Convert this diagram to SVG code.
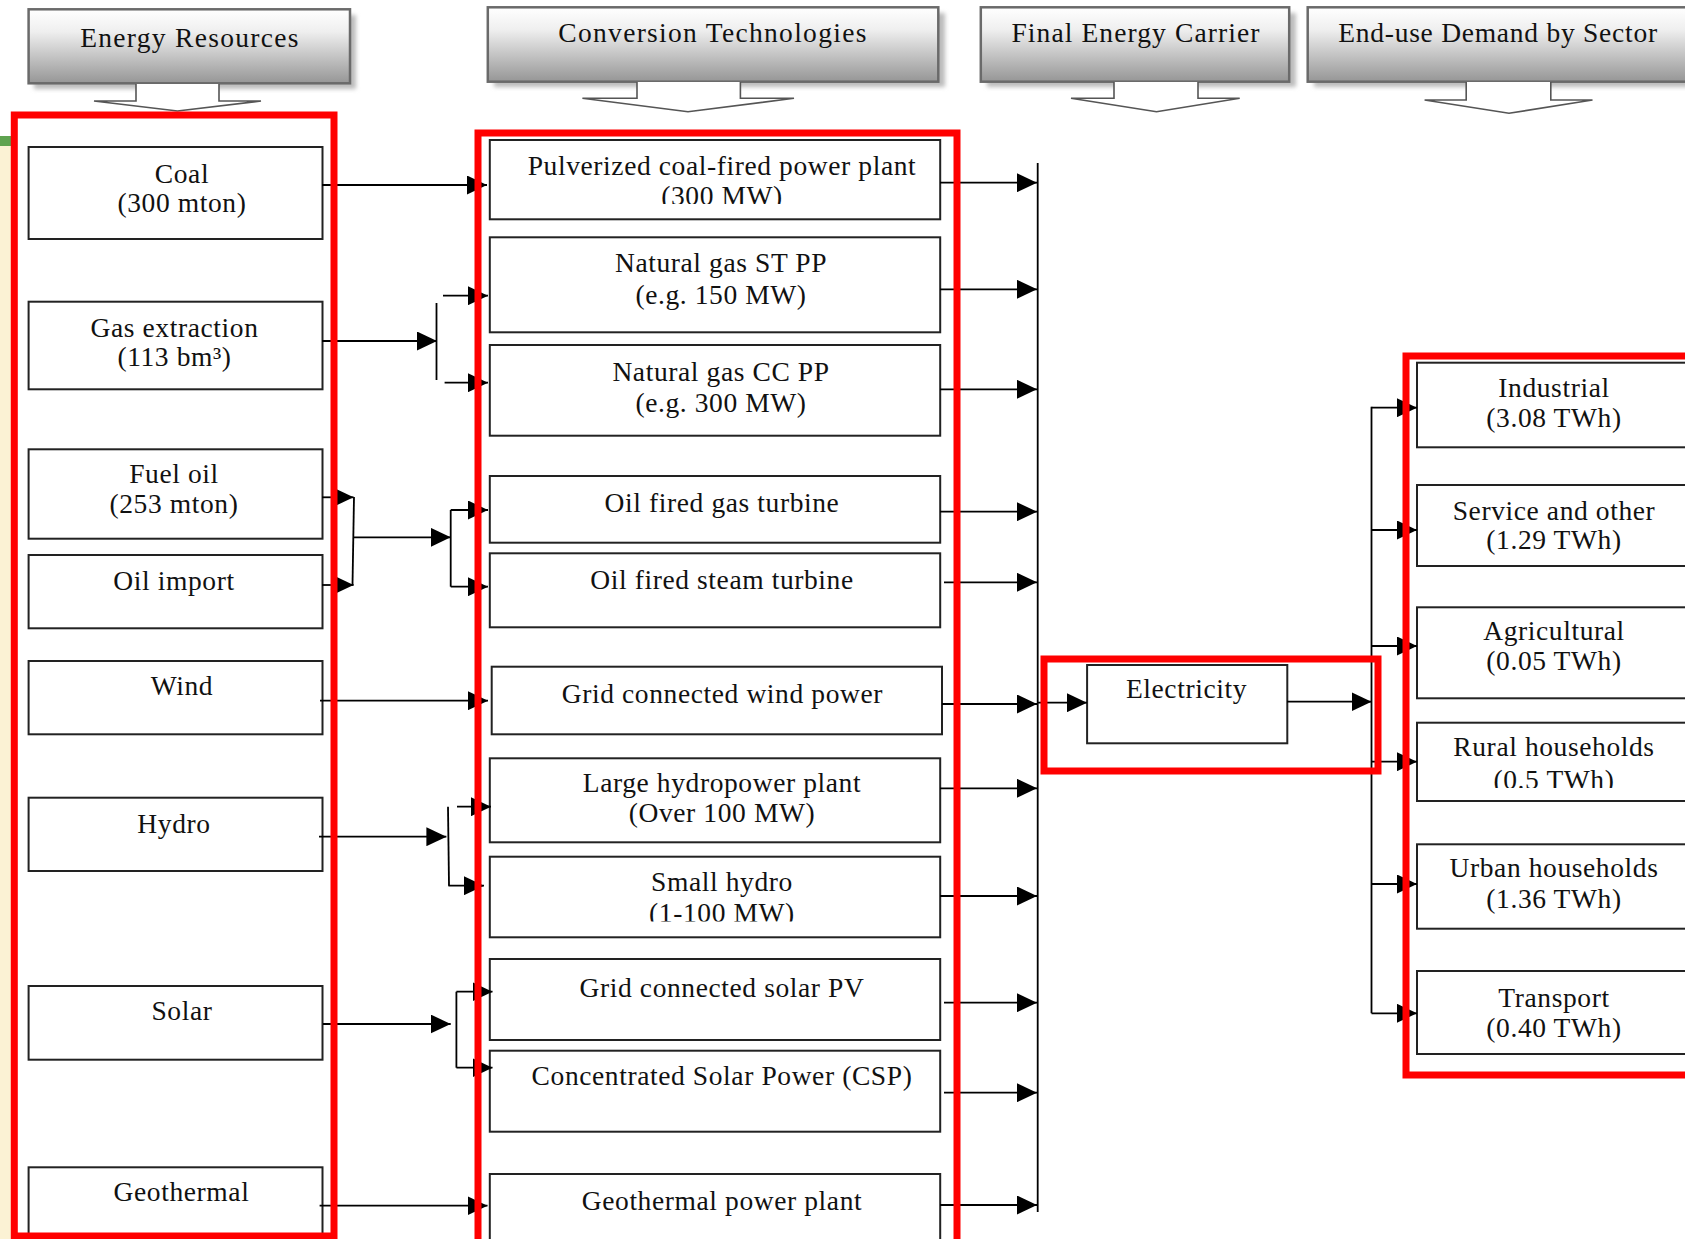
<svg xmlns="http://www.w3.org/2000/svg" width="1685" height="1239" viewBox="0 0 1685 1239">
<defs>
<style>
.t{font-family:"Liberation Serif","Times New Roman",serif;font-size:27.5px;letter-spacing:0.6px;fill:#111;text-anchor:middle}
.h{font-family:"Liberation Serif","Times New Roman",serif;font-size:27.5px;fill:#111;text-anchor:middle}
.box{fill:#fff;stroke:#222;stroke-width:2}
.hdr{fill:url(#hg);stroke:#6a6a6a;stroke-width:2.5}
.sh{fill:#bcbcbc;filter:url(#blur)}
.ha{fill:#fff;stroke:#555;stroke-width:1.6;stroke-linejoin:miter}
.c{fill:none;stroke:#000;stroke-width:1.8}
.a{marker-end:url(#ah)}
.red{fill:none;stroke:#ff0000;stroke-width:7}
</style>
<linearGradient id="hg" x1="0" y1="0" x2="0" y2="1">
<stop offset="0" stop-color="#ffffff"/>
<stop offset="0.3" stop-color="#efefef"/>
<stop offset="1" stop-color="#969696"/>
</linearGradient>
<filter id="blur" x="-5%" y="-20%" width="110%" height="140%"><feGaussianBlur stdDeviation="2"/></filter>
<marker id="ah" markerWidth="20" markerHeight="19" refX="20" refY="9.5" orient="auto" markerUnits="userSpaceOnUse">
<path d="M0,0 L20,9.5 L0,19 z" fill="#000"/>
</marker>
<clipPath id="cp1"><rect x="480" y="140" width="470" height="64"/></clipPath>
<clipPath id="cp2"><rect x="480" y="856" width="470" height="65.5"/></clipPath>
<clipPath id="cp3"><rect x="1410" y="722" width="280" height="66"/></clipPath>
</defs>
<rect x="0" y="0" width="1685" height="1239" fill="#fff"/>
<rect x="0" y="146" width="11" height="1093" fill="#fbf2d4"/>
<rect x="0" y="136" width="11" height="10" fill="#5fa350"/>

<!-- headers -->
<g id="hdr-energy-resources">
<rect class="sh" x="34" y="15" width="322" height="74"/>
<rect class="hdr" x="28.6" y="9.3" width="321.4" height="74"/>
<path class="ha" d="M136,84 V101 H94 L177.5,111 L261,101 H219 V84"/>
<text class="h" x="190" y="46.7" letter-spacing="1.3">Energy Resources</text>
</g>
<g id="hdr-conversion">
<rect class="sh" x="494" y="13" width="451" height="74"/>
<rect class="hdr" x="487.8" y="7.3" width="450.5" height="74.4"/>
<path class="ha" d="M637,82 V98.3 H582.4 L688,111.7 L794,98.3 H740.4 V82"/>
<text class="h" x="713" y="41.7" letter-spacing="1.3">Conversion Technologies</text>
</g>
<g id="hdr-final-carrier">
<rect class="sh" x="987" y="13" width="309" height="74"/>
<rect class="hdr" x="980.8" y="7.3" width="308.4" height="74.4"/>
<path class="ha" d="M1114,82 V98.3 H1071 L1156.5,111.7 L1239.7,98.3 H1198 V82"/>
<text class="h" x="1136" y="41.7" letter-spacing="1.1">Final Energy Carrier</text>
</g>
<g id="hdr-end-use">
<rect class="sh" x="1314" y="13" width="400" height="74"/>
<rect class="hdr" x="1307.7" y="7.3" width="400" height="74.4"/>
<path class="ha" d="M1466.2,82 V100 H1424.6 L1509,113.3 L1592.5,100 H1550.8 V82"/>
<text class="h" x="1498" y="41.7" letter-spacing="0.75">End-use Demand by Sector</text>
</g>

<!-- energy resources -->
<g id="coal"><rect class="box" x="28.6" y="147" width="293.9" height="92"/><text class="t" x="182" y="183">Coal</text><text class="t" x="182" y="212">(300 mton)</text></g>
<g id="gas-extraction"><rect class="box" x="28.6" y="301.7" width="293.9" height="87.6"/><text class="t" x="174.5" y="337">Gas extraction</text><text class="t" x="174.5" y="366">(113 bm³)</text></g>
<g id="fuel-oil"><rect class="box" x="28.6" y="449.3" width="293.9" height="89.4"/><text class="t" x="174" y="483">Fuel oil</text><text class="t" x="174" y="513">(253 mton)</text></g>
<g id="oil-import"><rect class="box" x="28.6" y="555" width="293.9" height="73.3"/><text class="t" x="174" y="590">Oil import</text></g>
<g id="wind"><rect class="box" x="28.6" y="661" width="293.9" height="73.3"/><text class="t" x="182" y="695">Wind</text></g>
<g id="hydro"><rect class="box" x="28.6" y="797.7" width="293.9" height="73.3"/><text class="t" x="174" y="833">Hydro</text></g>
<g id="solar"><rect class="box" x="28.6" y="986" width="293.9" height="73.7"/><text class="t" x="182" y="1020">Solar</text></g>
<g id="geothermal"><rect class="box" x="28.6" y="1167.3" width="293.9" height="70"/><text class="t" x="181.5" y="1201">Geothermal</text></g>

<!-- conversion technologies -->
<g id="pulverized-coal"><rect class="box" x="489.8" y="140" width="450.4" height="79.3"/><text class="t" x="722" y="175">Pulverized coal-fired power plant</text><text class="t" x="722" y="205" clip-path="url(#cp1)">(300 MW)</text></g>
<g id="ng-st"><rect class="box" x="489.8" y="237.3" width="450.4" height="95"/><text class="t" x="721" y="271.7">Natural gas ST PP</text><text class="t" x="721" y="304">(e.g. 150 MW)</text></g>
<g id="ng-cc"><rect class="box" x="489.8" y="345" width="450.4" height="90.7"/><text class="t" x="721" y="381">Natural gas CC PP</text><text class="t" x="721" y="411.7">(e.g. 300 MW)</text></g>
<g id="oil-gas-turbine"><rect class="box" x="489.8" y="476" width="450.4" height="66.7"/><text class="t" x="722" y="511.7">Oil fired gas turbine</text></g>
<g id="oil-steam-turbine"><rect class="box" x="489.8" y="553.3" width="450.4" height="74"/><text class="t" x="722" y="589.3">Oil fired steam turbine</text></g>
<g id="wind-power"><rect class="box" x="491.7" y="666.7" width="450.3" height="67.6"/><text class="t" x="722.4" y="702.7">Grid connected wind power</text></g>
<g id="large-hydro"><rect class="box" x="489.8" y="758.3" width="450.4" height="84"/><text class="t" x="722" y="791.7">Large hydropower plant</text><text class="t" x="722" y="821.7">(Over 100 MW)</text></g>
<g id="small-hydro"><rect class="box" x="489.8" y="856.7" width="450.4" height="80.6"/><text class="t" x="722" y="890.7">Small hydro</text><text class="t" x="722" y="922" clip-path="url(#cp2)">(1-100 MW)</text></g>
<g id="solar-pv"><rect class="box" x="489.8" y="959" width="450.4" height="81"/><text class="t" x="722" y="996.7">Grid connected solar PV</text></g>
<g id="csp"><rect class="box" x="489.8" y="1050.7" width="450.4" height="81"/><text class="t" x="722" y="1085">Concentrated Solar Power (CSP)</text></g>
<g id="geothermal-pp"><rect class="box" x="489.8" y="1174" width="450.4" height="80"/><text class="t" x="722" y="1210">Geothermal power plant</text></g>

<!-- final carrier -->
<g id="electricity"><rect class="box" x="1087.1" y="665" width="200.2" height="78.3"/><text class="t" x="1186.5" y="698">Electricity</text></g>

<!-- end-use -->
<g id="industrial"><rect class="box" x="1417" y="362.7" width="290" height="84.6"/><text class="t" x="1554" y="397">Industrial</text><text class="t" x="1554" y="427">(3.08 TWh)</text></g>
<g id="service"><rect class="box" x="1417" y="485" width="290" height="81"/><text class="t" x="1554" y="520">Service and other</text><text class="t" x="1554" y="549">(1.29 TWh)</text></g>
<g id="agricultural"><rect class="box" x="1417" y="607.3" width="290" height="91"/><text class="t" x="1554" y="640">Agricultural</text><text class="t" x="1554" y="670">(0.05 TWh)</text></g>
<g id="rural"><rect class="box" x="1417" y="722.7" width="290" height="78.3"/><text class="t" x="1554" y="755.5">Rural households</text><text class="t" x="1554" y="789" clip-path="url(#cp3)">(0.5 TWh)</text></g>
<g id="urban"><rect class="box" x="1417" y="844.3" width="290" height="84.4"/><text class="t" x="1554" y="877">Urban households</text><text class="t" x="1554" y="908">(1.36 TWh)</text></g>
<g id="transport"><rect class="box" x="1417" y="971" width="290" height="83"/><text class="t" x="1554" y="1007">Transport</text><text class="t" x="1554" y="1037">(0.40 TWh)</text></g>

<!-- connectors -->
<g id="connectors">
<path class="c a" d="M322,185 H487"/>
<path class="c a" d="M322,341 H437"/>
<path class="c" d="M436.5,303 V380"/>
<path class="c a" d="M443,295.7 H488"/>
<path class="c a" d="M444.6,382.7 H488"/>
<path class="c a" d="M322,497.3 H353.6"/>
<path class="c a" d="M322,585 H353.6"/>
<path class="c" d="M354,497 L352.5,585"/>
<path class="c a" d="M353,537.3 H450.7"/>
<path class="c" d="M450.7,510 V586.7"/>
<path class="c a" d="M450.7,510 H488"/>
<path class="c a" d="M450.7,586.7 H488"/>
<path class="c a" d="M320,700.7 H488"/>
<path class="c a" d="M319,836.7 H446.4"/>
<path class="c" d="M448,806.7 L449,885.7"/>
<path class="c a" d="M457,806.7 H491"/>
<path class="c a" d="M448.4,885.7 H484"/>
<path class="c a" d="M323,1024 H450.7"/>
<path class="c" d="M456.4,991.7 V1067.7"/>
<path class="c a" d="M456.4,991.7 H492.5"/>
<path class="c a" d="M456.4,1067.7 H492.5"/>
<path class="c a" d="M319.6,1205.7 H487.5"/>

<path class="c" d="M1037.7,163 V1212"/>
<path class="c a" d="M940,182.7 H1037"/>
<path class="c a" d="M940,289.3 H1037"/>
<path class="c a" d="M940,389.3 H1037"/>
<path class="c a" d="M940,511.7 H1037"/>
<path class="c a" d="M944,582.3 H1037"/>
<path class="c a" d="M942,704 H1037"/>
<path class="c a" d="M940,788.3 H1037"/>
<path class="c a" d="M940,896 H1037"/>
<path class="c a" d="M944,1002.7 H1037"/>
<path class="c a" d="M944,1092.7 H1037"/>
<path class="c a" d="M940,1205 H1037"/>

<path class="c a" d="M1038,702.7 H1087"/>
<path class="c a" d="M1287,701.7 H1371.5"/>
<path class="c" d="M1371.5,406.7 V1013.3"/>
<path class="c a" d="M1371.5,407.7 H1417"/>
<path class="c a" d="M1371.5,530 H1417"/>
<path class="c a" d="M1371.5,646 H1417"/>
<path class="c a" d="M1371.5,761.7 H1417"/>
<path class="c a" d="M1371.5,884 H1417"/>
<path class="c a" d="M1371.5,1013.3 H1417"/>
</g>

<!-- highlight frames -->
<g id="highlights">
<rect class="red" x="14.3" y="115" width="319.7" height="1121"/>
<rect class="red" x="478" y="133" width="479" height="1200"/>
<rect class="red" x="1044" y="659" width="334" height="112"/>
<rect class="red" x="1406" y="356" width="400" height="719"/>
</g>
</svg>
